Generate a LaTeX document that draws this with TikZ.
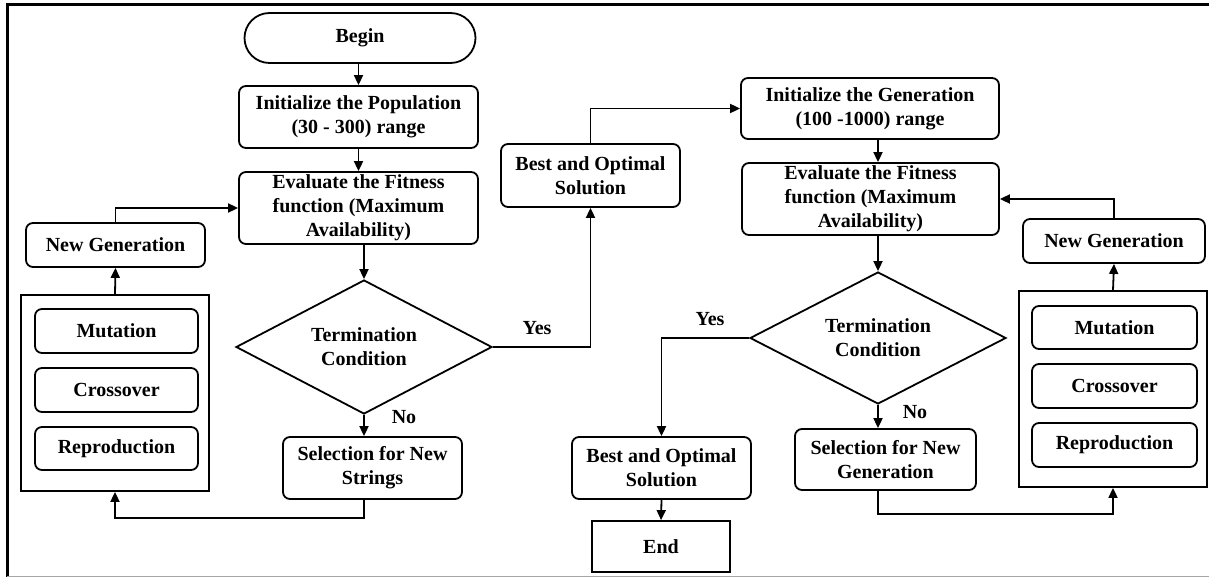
\documentclass[tikz,border=0pt]{standalone}
\usepackage{fontspec}
\setmainfont{Liberation Serif}
\usetikzlibrary{shapes.geometric,arrows.meta}
\begin{document}
\begin{tikzpicture}[x=1pt,y=-1pt,
  every node/.style={font=\fontsize{20}{24}\selectfont\bfseries, inner sep=0pt, align=center},
  rbox/.style={draw, line width=1.8pt, rounded corners=7pt},
  sbox/.style={draw, line width=1.8pt},
  term/.style={draw, line width=1.8pt, rounded corners=25pt},
  decide/.style={draw, line width=1.8pt, shape=diamond, aspect=2},
  arr/.style={line width=1.8pt, -{Triangle[length=10pt,width=9pt]}},
  lbl/.style={}
]
% canvas and frame
\fill[white] (0,0) rectangle (1209,577);
\useasboundingbox (0,0) rectangle (1209,577);
\draw[line width=3pt] (6,5) -- (1209,5);
\draw[line width=3pt] (7.5,3.5) -- (7.5,577);
\draw[line width=1pt, gray!70] (7,576) -- (1209,576);

% left flow
\node[term, minimum width=231pt, minimum height=50pt] (begin) at (360,38) {Begin};
\node[rbox, minimum width=239pt, minimum height=62pt] (initP) at (358.5,117) {Initialize the Population\\(30 - 300) range};
\node[rbox, minimum width=239pt, minimum height=72pt] (evalP) at (358.5,208) {Evaluate the Fitness\\function (Maximum\\Availability)};
\node[decide, minimum width=256pt, minimum height=134pt] (dia1) at (364,347) {Termination\\Condition};
\node[rbox, minimum width=179pt, minimum height=62pt] (selP) at (372.5,468) {Selection for New\\Strings};

\node[sbox, minimum width=188pt, minimum height=196pt] (grp1) at (115,393) {};
\node[rbox, minimum width=163pt, minimum height=44pt] (mut1) at (116.5,331) {Mutation};
\node[rbox, minimum width=163pt, minimum height=44pt] (cross1) at (116.5,390) {Crossover};
\node[rbox, minimum width=163pt, minimum height=43pt] (rep1) at (116.5,448.5) {Reproduction};
\node[rbox, minimum width=179pt, minimum height=44pt] (ng1) at (115.5,245) {New Generation};

\node[rbox, minimum width=179pt, minimum height=63pt] (best1) at (590.5,175.5) {Best and Optimal\\Solution};

% right flow
\node[rbox, minimum width=258pt, minimum height=61pt] (initG) at (870,108.5) {Initialize the Generation\\(100 -1000) range};
\node[rbox, minimum width=257pt, minimum height=72pt] (evalG) at (870.5,199) {Evaluate the Fitness\\function (Maximum\\Availability)};
\node[decide, minimum width=256pt, minimum height=132pt] (dia2) at (878,338) {Termination\\Condition};
\node[rbox, minimum width=181pt, minimum height=61pt] (selG) at (885.5,459.5) {Selection for New\\Generation};
\node[rbox, minimum width=179pt, minimum height=62pt] (best2) at (661.5,468) {Best and Optimal\\Solution};
\node[sbox, minimum width=138pt, minimum height=51pt] (end) at (661,546.5) {End};

\node[sbox, minimum width=188pt, minimum height=196pt] (grp2) at (1113,389) {};
\node[rbox, minimum width=165pt, minimum height=43pt] (mut2) at (1114.5,327.5) {Mutation};
\node[rbox, minimum width=165pt, minimum height=44pt] (cross2) at (1114.5,386) {Crossover};
\node[rbox, minimum width=165pt, minimum height=44pt] (rep2) at (1114.5,445) {Reproduction};
\node[rbox, minimum width=182pt, minimum height=44pt] (ng2) at (1114,241) {New Generation};

% labels
\node[lbl] (yes1) at (537,328) {Yes};
\node[lbl] (no1) at (404,417) {No};
\node[lbl] (yes2) at (710,319) {Yes};
\node[lbl] (no2) at (915,412) {No};

% connectors left
\draw[arr] (initP.north |- begin.south) -- (initP.north);
\draw[arr] (initP.south) -- (evalP.north);
\draw[arr] (dia1.north |- evalP.south) -- (dia1.north);
\draw[arr] (dia1.south) -- (dia1.south |- selP.north);
\draw[arr] (selP.south -| dia1.south) -- ++(0,18) -| (grp1.south);
\draw[arr] (grp1.north) -- (ng1.south);
\draw[arr] (ng1.north) |- (evalP.west);
\draw[arr] (dia1.east) -| (best1.south);
\draw[arr] (best1.north) |- (initG.west);

% connectors right
\draw[arr] (initG.south -| dia2.north) -- (evalG.north -| dia2.north);
\draw[arr] (evalG.south -| dia2.north) -- (dia2.north);
\draw[arr] (dia2.west) -| (best2.north);
\draw[arr] (best2.south) -- (end.north);
\draw[arr] (dia2.south) -- (dia2.south |- selG.north);
\draw[arr] (selG.south -| dia2.south) -- ++(0,23) -| (grp2.south);
\draw[arr] (grp2.north) -- (ng2.south);
\draw[arr] (ng2.north) |- (evalG.east);
\end{tikzpicture}
\end{document}
